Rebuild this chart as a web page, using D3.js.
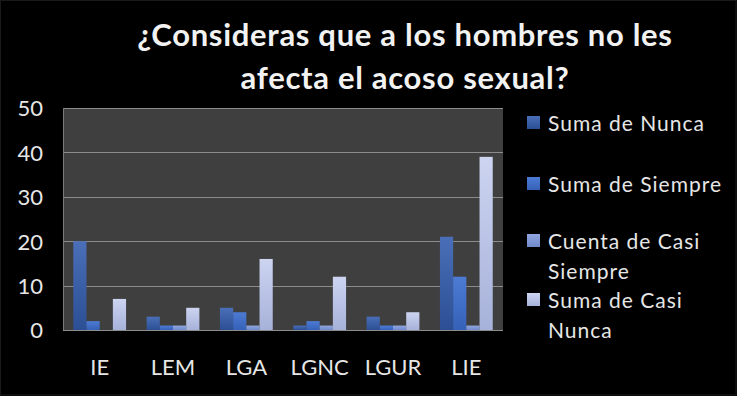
<!DOCTYPE html>
<html>
<head>
<meta charset="utf-8">
<script src="https://cdn.jsdelivr.net/npm/d3@7"></script>
<style>
  body { margin: 0; background: #000; }
  svg { display: block; font-family: Lato, "Open Sans", sans-serif; }
</style>
</head>
<body>
<svg id="chart" width="737" height="396"></svg>
<script>
// data
const categories = ["IE", "LEM", "LGA", "LGNC", "LGUR", "LIE"];
const seriesNames = ["Suma de Nunca", "Suma de Siempre", "Cuenta de Casi Siempre", "Suma de Casi Nunca"];
const nunca = [20, 3, 5, 1, 3, 21];
const siempre = [2, 1, 4, 2, 1, 12];
const casiSiempre = [0, 1, 1, 1, 1, 1];
const casiNunca = [7, 5, 16, 12, 4, 39];
const yTicks = [0, 10, 20, 30, 40, 50];

const values = [nunca, siempre, casiSiempre, casiNunca];
const colors = [
  ["#4a6fb8", "#2c4f94"],
  ["#4d7bd4", "#3561b8"],
  ["#90a6e0", "#6f8acb"],
  ["#ccd4f0", "#a7b2da"]
];
const legendLines = [["Suma de Nunca"], ["Suma de Siempre"], ["Cuenta de Casi", "Siempre"], ["Suma de Casi", "Nunca"]];

const svg = d3.select("#chart");
const W = 737, H = 396;
const plot = { left: 63, right: 503, top: 108, bottom: 330 };
const font = 'Lato, "Open Sans", sans-serif';

// outer frame
svg.append("rect").attr("width", W).attr("height", H).attr("fill", "#000");
svg.append("rect").attr("x", 0.5).attr("y", 0.5).attr("width", W - 1.5).attr("height", H - 1.5)
   .attr("fill", "none").attr("stroke", "#1a1a1a");

const defs = svg.append("defs");
colors.forEach((c, i) => {
  const g = defs.append("linearGradient").attr("id", "grad" + i)
    .attr("x1", 0).attr("y1", 0).attr("x2", 0).attr("y2", 1);
  g.append("stop").attr("offset", "0%").attr("stop-color", c[0]);
  g.append("stop").attr("offset", "100%").attr("stop-color", c[1]);
});

// scales
const x = d3.scaleBand().domain(categories).range([plot.left, plot.right]).paddingInner(0.28).paddingOuter(0.14);
const xs = d3.scaleBand().domain(d3.range(seriesNames.length)).range([0, x.bandwidth()]);
const y = d3.scaleLinear().domain([0, 50]).range([plot.bottom, plot.top]);

// plot background
svg.append("rect")
  .attr("x", plot.left).attr("y", plot.top)
  .attr("width", plot.right - plot.left).attr("height", plot.bottom - plot.top)
  .attr("fill", "#3f3f3f");

// gridlines
svg.append("g")
  .selectAll("line")
  .data(yTicks).enter()
  .append("line")
    .attr("x1", plot.left).attr("x2", plot.right)
    .attr("y1", (d) => Math.round(y(d)) + 0.5).attr("y2", (d) => Math.round(y(d)) + 0.5)
    .style("stroke", "#8c8c8c")
    .style("stroke-width", 1.2);

svg.append("line")
  .attr("x1", plot.left + 0.5).attr("x2", plot.left + 0.5)
  .attr("y1", plot.top).attr("y2", plot.bottom)
  .style("stroke", "#7a7a7a");

// bars
const groups = svg.append("g")
  .selectAll("g")
  .data(categories).enter()
  .append("g")
    .attr("transform", (d) => `translate(${x(d)},0)`);

groups.selectAll("rect")
  .data((d, ci) => values.map((v, si) => ({ s: si, v: v[ci] }))).enter()
  .append("rect")
    .attr("x", (d) => xs(d.s))
    .attr("width", xs.bandwidth())
    .attr("y", (d) => y(d.v))
    .attr("height", (d) => y(0) - y(d.v))
    .style("fill", (d) => `url(#grad${d.s})`);

// y axis labels
const yAxis = svg.append("g")
  .attr("transform", `translate(${plot.left - 20},0)`)
  .call(d3.axisLeft(y).tickValues(yTicks).tickSize(0).tickPadding(0))
  .attr("font-family", font);
yAxis.select(".domain").remove();
yAxis.selectAll("text")
  .style("font-size", "22px")
  .style("fill", "#e6e6e6")
  .attr("dy", "0.36em");

// x axis labels
const xAxis = svg.append("g")
  .attr("transform", `translate(0,${plot.bottom})`)
  .call(d3.axisBottom(x).tickSize(0).tickPadding(0))
  .attr("font-family", font);
xAxis.select(".domain").remove();
xAxis.selectAll("text")
  .style("font-size", "22px")
  .style("fill", "#e6e6e6")
  .attr("y", 45)
  .attr("dy", 0);

// title
svg.append("text")
  .attr("text-anchor", "middle")
  .style("font-size", "31px")
  .style("font-weight", "bold")
  .style("letter-spacing", "0.7px")
  .style("fill", "#f2f2f2")
  .selectAll("tspan")
  .data(["¿Consideras que a los hombres no les", "afecta el acoso sexual?"]).enter()
  .append("tspan")
    .attr("x", 405)
    .attr("y", (d, i) => 46 + i * 43)
    .text((d) => d);

// legend
const legendY = [123, 184, 241, 300];
const legend = svg.append("g")
  .selectAll("g")
  .data(seriesNames).enter()
  .append("g")
    .attr("transform", (d, i) => `translate(527,${legendY[i]})`);

legend.append("rect")
  .attr("x", 0).attr("y", -7)
  .attr("width", 13).attr("height", 13)
  .style("fill", (d, i) => `url(#grad${i})`);

legend.append("text")
  .style("font-size", "21px")
  .style("letter-spacing", "1px")
  .style("fill", "#e6e6e6")
  .selectAll("tspan")
  .data((d, i) => legendLines[i]).enter()
  .append("tspan")
    .attr("x", 21)
    .attr("y", (d, i) => 8 + i * 30)
    .text((d) => d);
</script>
</body>
</html>
